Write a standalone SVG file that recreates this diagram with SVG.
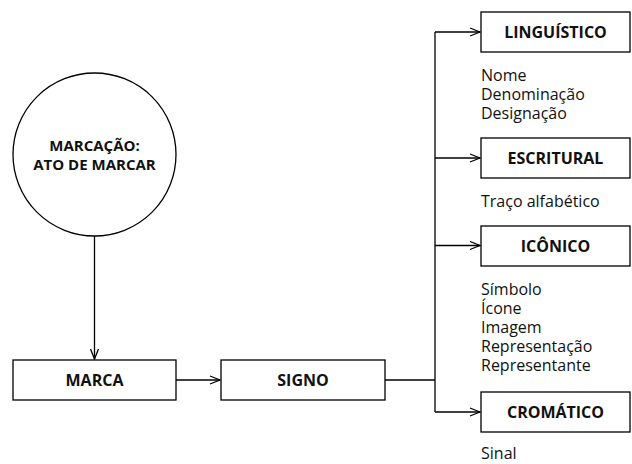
<svg xmlns="http://www.w3.org/2000/svg" width="632" height="464" viewBox="0 0 632 464">
<style>
.box{fill:#fff;stroke:#000;stroke-width:1.3}
.t{font-family:"Open Sans","Noto Sans",sans-serif;font-weight:bold;font-size:16px;fill:#111;text-anchor:middle}
.ct{font-size:15px}
.l{font-family:"Open Sans","Noto Sans",sans-serif;font-size:16px;fill:#111}
.c{fill:none;stroke:#000;stroke-width:1.3}
</style>
<defs>
<marker id="a" markerWidth="12" markerHeight="10" refX="11" refY="5" orient="auto" markerUnits="userSpaceOnUse">
<polyline points="1,1 11,5 1,9" fill="none" stroke="#000" stroke-width="1.3"/>
</marker>
</defs>
<g id="connectors">
<line class="c" x1="94.5" y1="236" x2="94.5" y2="359" marker-end="url(#a)"/>
<line class="c" x1="176" y1="380" x2="220" y2="380" marker-end="url(#a)"/>
<polyline class="c" points="385,380 435,380"/>
<polyline class="c" points="435,412 435,32"/>
<line class="c" x1="435" y1="32" x2="480" y2="32" marker-end="url(#a)"/>
<line class="c" x1="435" y1="158" x2="480" y2="158" marker-end="url(#a)"/>
<line class="c" x1="435" y1="245.5" x2="480" y2="245.5" marker-end="url(#a)"/>
<line class="c" x1="435" y1="412" x2="480" y2="412" marker-end="url(#a)"/>
</g>
<g id="marcacao">
<circle class="box" cx="94.5" cy="154.5" r="81.5"/>
<text class="t ct" x="94.5" y="150.5">MARCAÇÃO:</text>
<text class="t ct" x="94.5" y="169.5">ATO DE MARCAR</text>
</g>
<g id="marca">
<rect class="box" x="13" y="360" width="163" height="40"/>
<text class="t" x="94.5" y="385.5">MARCA</text>
</g>
<g id="signo">
<rect class="box" x="221" y="360" width="164" height="40"/>
<text class="t" x="303" y="385.5">SIGNO</text>
</g>
<g id="linguistico">
<rect class="box" x="481" y="12" width="149" height="40"/>
<text class="t" x="555.5" y="37.5">LINGUÍSTICO</text>
<text class="l" x="481" y="81">Nome</text>
<text class="l" x="481" y="100">Denominação</text>
<text class="l" x="481" y="119">Designação</text>
</g>
<g id="escritural">
<rect class="box" x="481" y="138" width="149" height="40"/>
<text class="t" x="555.5" y="163.5">ESCRITURAL</text>
<text class="l" x="481" y="207">Traço alfabético</text>
</g>
<g id="iconico">
<rect class="box" x="481" y="226" width="149" height="40"/>
<text class="t" x="555.5" y="251.5">ICÔNICO</text>
<text class="l" x="481" y="294.5">Símbolo</text>
<text class="l" x="481" y="313.5">Ícone</text>
<text class="l" x="481" y="332.5">Imagem</text>
<text class="l" x="481" y="351.5">Representação</text>
<text class="l" x="481" y="370.5">Representante</text>
</g>
<g id="cromatico">
<rect class="box" x="481" y="392" width="149" height="40"/>
<text class="t" x="555.5" y="417.5">CROMÁTICO</text>
<text class="l" x="481" y="459">Sinal</text>
</g>
</svg>
